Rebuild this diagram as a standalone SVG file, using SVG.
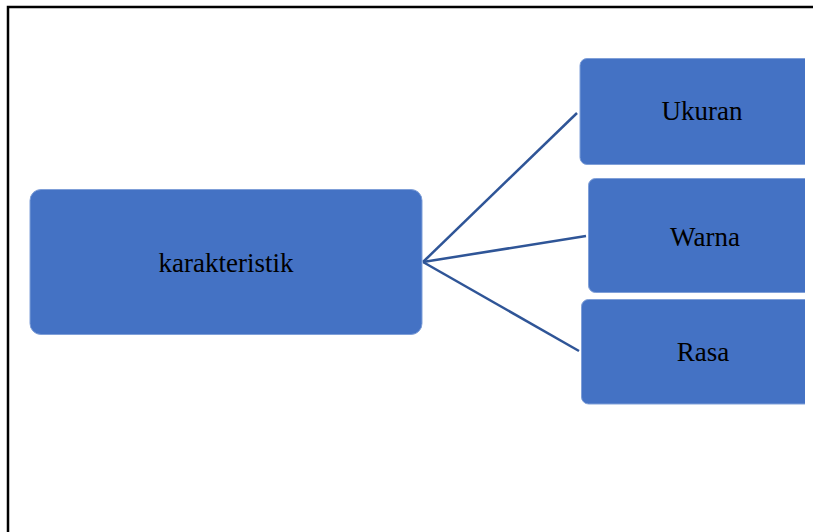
<svg xmlns="http://www.w3.org/2000/svg" width="813" height="532" viewBox="0 0 813 532">
<style>
.box{fill:#4472C4;stroke:#7F9FD8;stroke-width:1}
.lbl{font-family:"Liberation Serif",serif;font-size:27px;fill:#000;text-anchor:middle}
.conn{stroke:#2F5597;stroke-width:2.5;fill:none}
</style>
<rect width="813" height="532" fill="#fff"/>
<path d="M8,540 V7 H820" fill="none" stroke="#000" stroke-width="2.5"/>
<g id="connectors">
<line class="conn" x1="423" y1="262" x2="577" y2="113"/>
<line class="conn" x1="423" y1="262" x2="586" y2="236"/>
<line class="conn" x1="423" y1="262" x2="579" y2="351"/>
</g>
<g id="node-karakteristik">
<rect class="box" x="30" y="189.5" width="392" height="145" rx="11"/>
<text class="lbl" x="226" y="272">karakteristik</text>
</g>
<g id="node-ukuran">
<rect class="box" x="580" y="58.5" width="235" height="106" rx="7"/>
<text class="lbl" x="702" y="120">Ukuran</text>
</g>
<g id="node-warna">
<rect class="box" x="588.5" y="178.5" width="230" height="114" rx="7"/>
<text class="lbl" x="705" y="246">Warna</text>
</g>
<g id="node-rasa">
<rect class="box" x="581.5" y="299.5" width="235" height="104.5" rx="7"/>
<text class="lbl" x="703" y="361">Rasa</text>
</g>
<rect x="805" y="50" width="8" height="360" fill="#fff"/>
</svg>
